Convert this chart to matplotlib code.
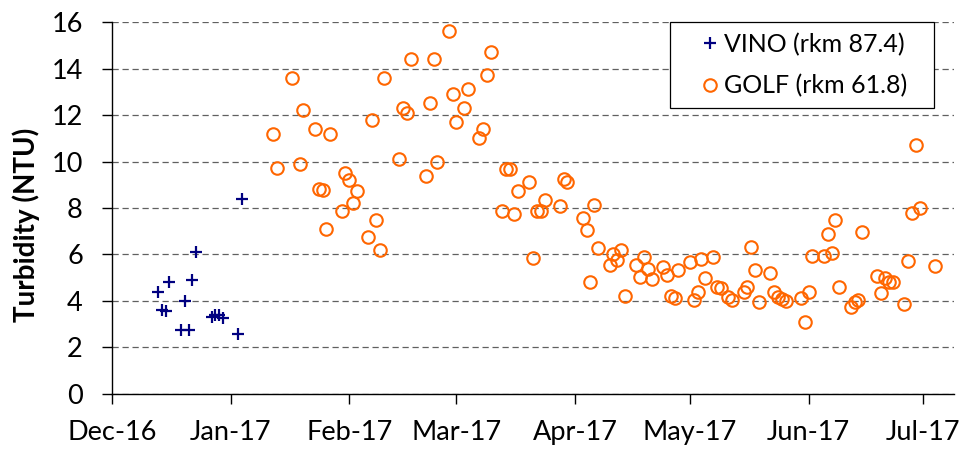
"""Turbidity at VINO and GOLF stations, Dec 2016 - Jul 2017."""
import numpy as np
import pandas as pd
import matplotlib
matplotlib.use("Agg")
import matplotlib.pyplot as plt
import matplotlib.dates as mdates

plt.rcParams["font.family"] = ["Lato", "DejaVu Sans"]

# VINO (rkm 87.4)
vino_dates = ["2016-12-13", "2016-12-14", "2016-12-15", "2016-12-16", "2016-12-19",
              "2016-12-20", "2016-12-21", "2016-12-22", "2016-12-23", "2016-12-27",
              "2016-12-28", "2016-12-29", "2016-12-30", "2017-01-03", "2017-01-04"]
vino_ntu = [4.4, 3.6, 3.55, 4.8, 2.75, 4.0, 2.75, 4.9, 6.1, 3.3,
            3.4, 3.4, 3.25, 2.6, 8.4]

# GOLF (rkm 61.8)
golf_dates = [
    "2017-01-12", "2017-01-13", "2017-01-17", "2017-01-19", "2017-01-20", "2017-01-23",
    "2017-01-24", "2017-01-25", "2017-01-26", "2017-01-27", "2017-01-30", "2017-01-31",
    "2017-02-01", "2017-02-02", "2017-02-03", "2017-02-06", "2017-02-07", "2017-02-08",
    "2017-02-09", "2017-02-10", "2017-02-14", "2017-02-15", "2017-02-16", "2017-02-17",
    "2017-02-21", "2017-02-22", "2017-02-23", "2017-02-24", "2017-02-27", "2017-02-28",
    "2017-03-01", "2017-03-03", "2017-03-04", "2017-03-07", "2017-03-08", "2017-03-09",
    "2017-03-10", "2017-03-13", "2017-03-14", "2017-03-15", "2017-03-16", "2017-03-17",
    "2017-03-20", "2017-03-21", "2017-03-22", "2017-03-23", "2017-03-24", "2017-03-28",
    "2017-03-29", "2017-03-30", "2017-04-03", "2017-04-04", "2017-04-05", "2017-04-06",
    "2017-04-07", "2017-04-10", "2017-04-11", "2017-04-12", "2017-04-13", "2017-04-14",
    "2017-04-17", "2017-04-18", "2017-04-19", "2017-04-20", "2017-04-21", "2017-04-24",
    "2017-04-25", "2017-04-26", "2017-04-27", "2017-04-28", "2017-05-01", "2017-05-02",
    "2017-05-03", "2017-05-04", "2017-05-05", "2017-05-07", "2017-05-08", "2017-05-09",
    "2017-05-11", "2017-05-12", "2017-05-15", "2017-05-16", "2017-05-17", "2017-05-18",
    "2017-05-19", "2017-05-22", "2017-05-23", "2017-05-24", "2017-05-25", "2017-05-26",
    "2017-05-30", "2017-05-31", "2017-06-01", "2017-06-02", "2017-06-05", "2017-06-06",
    "2017-06-07", "2017-06-08", "2017-06-09", "2017-06-12", "2017-06-13", "2017-06-14",
    "2017-06-15", "2017-06-19", "2017-06-20", "2017-06-21", "2017-06-22", "2017-06-23",
    "2017-06-26", "2017-06-27", "2017-06-28", "2017-06-29", "2017-06-30", "2017-07-04"]
golf_ntu = [
    11.2, 9.7, 13.6, 9.9, 12.2, 11.4,
    8.83, 8.76, 7.08, 11.2, 7.87, 9.5,
    9.22, 8.23, 8.73, 6.75, 11.8, 7.5,
    6.18, 13.6, 10.1, 12.3, 12.1, 14.4,
    9.39, 12.5, 14.4, 10.0, 15.6, 12.9,
    11.7, 12.3, 13.1, 11.0, 11.4, 13.7,
    14.7, 7.87, 9.68, 9.68, 7.73, 8.73,
    9.13, 5.86, 7.88, 7.88, 8.34, 8.1,
    9.23, 9.13, 7.55, 7.04, 4.8, 8.13,
    6.28, 5.53, 6.01, 5.75, 6.19, 4.23,
    5.53, 5.05, 5.91, 5.36, 4.93, 5.48,
    5.12, 4.23, 4.14, 5.33, 5.66, 4.03,
    4.37, 5.79, 4.99, 5.88, 4.62, 4.57,
    4.19, 4.04, 4.39, 4.62, 6.34, 5.33,
    3.96, 5.22, 4.39, 4.16, 4.09, 3.99,
    4.15, 3.11, 4.37, 5.95, 5.95, 6.88,
    6.05, 7.48, 4.62, 3.75, 3.97, 4.06,
    6.95, 5.09, 4.33, 4.98, 4.80, 4.80,
    3.88, 5.71, 7.77, 10.71, 7.99, 5.51]

vino = pd.Series(vino_ntu, index=pd.to_datetime(vino_dates))
golf = pd.Series(golf_ntu, index=pd.to_datetime(golf_dates))

fig = plt.figure(figsize=(9.63, 4.51), dpi=100)
ax = fig.add_axes([0.1163, 0.1264, 0.8744, 0.8248])

ax.plot(vino.index, vino.values, ls="none", marker="+", ms=9, mew=1.6,
        color="#000080", label="VINO (rkm 87.4)", zorder=3)
ax.plot(golf.index, golf.values, ls="none", marker="o", ms=9, mew=1.5,
        mfc="none", mec="#FF6600", label="GOLF (rkm 61.8)", zorder=3)

ax.set_xlim(pd.Timestamp("2016-12-01"), pd.Timestamp("2017-07-09"))
ax.set_ylim(0, 16)
ax.set_yticks(np.arange(0, 17, 2))
ax.xaxis.set_major_locator(mdates.MonthLocator())
ax.xaxis.set_major_formatter(mdates.DateFormatter("%b-%y"))

ax.yaxis.grid(True, ls=(0, (5, 3)), lw=0.9, color="#606060")
ax.set_axisbelow(True)
for s in ("top", "right"):
    ax.spines[s].set_visible(False)
for s in ("left", "bottom"):
    ax.spines[s].set_linewidth(1.0)
ax.tick_params(axis="both", length=7, width=1.0, labelsize=19.5)
ax.tick_params(axis="y", pad=14)
ax.tick_params(axis="x", pad=12)

fig.text(26 / 963, 1 - 225 / 451, "Turbidity (NTU)", rotation=90,
         ha="center", va="center", fontsize=20, fontweight="bold")

# Excel-style legend box: wide, marker inset from the left edge
leg = ax.legend(loc="upper left", bbox_to_anchor=(0.663, 0.0, 0.313, 1.0),
                mode="expand", borderaxespad=0, fontsize=18, fancybox=False,
                edgecolor="black", framealpha=1, handlelength=2.36,
                handletextpad=-0.63, borderpad=0.42, labelspacing=0.74)
leg.get_frame().set_linewidth(0.9)

fig.savefig("out.png", dpi=100)
